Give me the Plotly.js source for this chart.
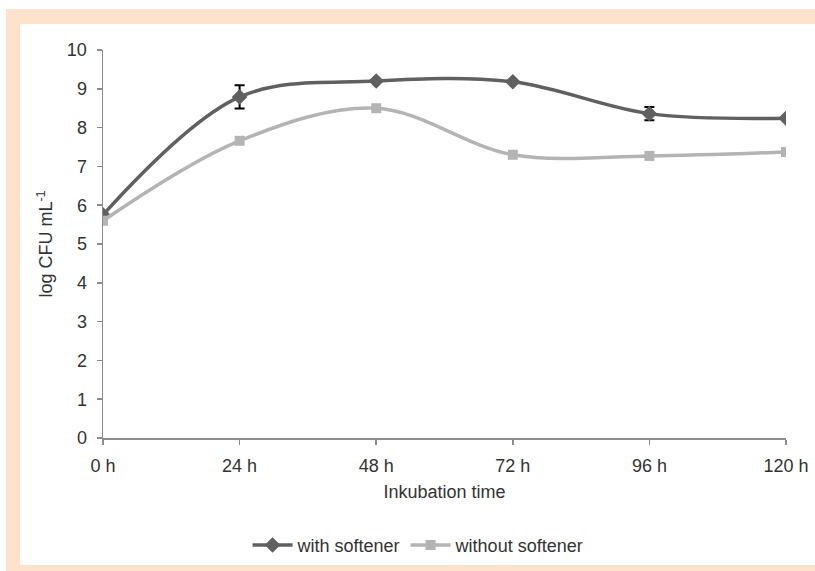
<!DOCTYPE html>
<html>
<head>
<meta charset="utf-8">
<script src="https://cdn.plot.ly/plotly-3.0.1.min.js"></script>
<style>
  html, body { margin: 0; padding: 0; background: #ffffff; }
  #frame { position: absolute; left: 6px; top: 9px; width: 809px; height: 562px;
           box-sizing: border-box; border-left: 14px solid #FEE2CC; border-top: 15px solid #FEE2CC;
           border-bottom: 6px solid #FEE2CC; }
  #chart { position: absolute; left: 0; top: 0; width: 815px; height: 571px; }
</style>
</head>
<body>
<div id="frame"></div>
<div id="chart"></div>
<script>
const hours = [0, 24, 48, 72, 96, 120];
const tickLabels = ["0 h", "24 h", "48 h", "72 h", "96 h", "120 h"];
const withSoftener = [5.75, 8.79, 9.2, 9.18, 8.36, 8.24];
const withSoftenerErr = [0, 0.3, 0, 0, 0.17, 0];
const withoutSoftener = [5.6, 7.66, 8.5, 7.3, 7.27, 7.37];

const font = "Liberation Sans, Arial, sans-serif";
const txt = { family: font, size: 18, color: "#333333" };

const traces = [
  {
    x: hours, y: withSoftener, name: "with softener", type: "scatter", mode: "lines+markers",
    line: { color: "#606060", width: 3.5, shape: "spline", smoothing: 1 },
    marker: { symbol: "diamond", size: 12, color: "#606060" },
    error_y: { type: "data", array: withSoftenerErr, visible: true, color: "#000000", thickness: 2, width: 5 }
  },
  {
    x: hours, y: withoutSoftener, name: "without softener", type: "scatter", mode: "lines+markers",
    line: { color: "#b4b4b4", width: 3.5, shape: "spline", smoothing: 1 },
    marker: { symbol: "square", size: 10, color: "#b4b4b4" }
  }
];

const layout = {
  width: 815, height: 571,
  margin: { l: 103, r: 29, t: 50, b: 133 },
  paper_bgcolor: "rgba(0,0,0,0)",
  plot_bgcolor: "rgba(0,0,0,0)",
  font: txt,
  showlegend: true,
  legend: { orientation: "h", x: 0.462, xanchor: "center", xref: "paper",
            y: 0.045, yanchor: "middle", yref: "container",
            font: txt, bgcolor: "rgba(0,0,0,0)", itemwidth: 40, tracegroupgap: 0 },
  xaxis: {
    range: [0, 120], tickvals: hours, ticktext: tickLabels, automargin: false,
    showgrid: false, zeroline: false, showline: true, linecolor: "#8c8c8c", linewidth: 1.5,
    ticks: "outside", ticklen: 5, tickcolor: "#8c8c8c", tickwidth: 1.5,
    tickfont: txt, ticklabelstandoff: 6,
    title: { text: "Inkubation time", font: txt, standoff: 10 }
  },
  yaxis: {
    range: [0, 10], dtick: 1, tick0: 0, automargin: false,
    showgrid: false, zeroline: false, showline: true, linecolor: "#8c8c8c", linewidth: 1.5,
    ticks: "outside", ticklen: 5, tickcolor: "#8c8c8c", tickwidth: 1.5,
    tickfont: txt, ticklabelstandoff: 6,
    title: { text: "log CFU mL<sup>-1</sup>", font: txt, standoff: 9 }
  }
};

Plotly.newPlot("chart", traces, layout, { displayModeBar: false, staticPlot: true });
</script>
</body>
</html>
